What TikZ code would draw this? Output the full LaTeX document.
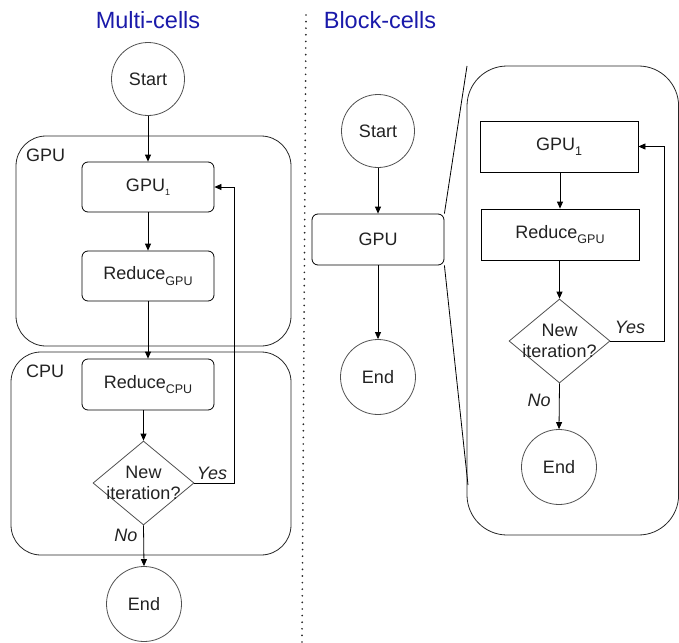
\documentclass[tikz,border=0pt]{standalone}
\usepackage{fontspec}
\setmainfont{Liberation Sans}
\usetikzlibrary{arrows.meta,shapes.geometric}
\definecolor{ttl}{RGB}{26,26,170}
\definecolor{ink}{RGB}{34,34,34}
\definecolor{shp}{RGB}{80,80,80}
\newcommand{\subbig}[1]{\raisebox{-0.3em}{\fontsize{12.5}{12}\selectfont #1}}
\newcommand{\subsmall}[1]{\raisebox{-0.25em}{\fontsize{9}{9}\selectfont #1}}
\begin{document}
\begin{tikzpicture}[x=1pt,y=-1pt,
  txtbase/.style={font=\fontsize{18}{21}\selectfont, text=ink, inner sep=0pt},
  circ/.style={txtbase, circle, draw=shp, line width=0.8pt, minimum size=#1},
  rbox/.style={txtbase, rectangle, rounded corners=6pt, draw=black, line width=0.8pt},
  sbox/.style={txtbase, rectangle, draw=black, line width=0.8pt},
  grpbox/.style={rectangle, rounded corners=#1, draw=black!85, line width=0.8pt},
  dia/.style={diamond, draw=shp, line width=0.8pt, inner sep=0pt},
  conn/.style={draw=black, line width=0.8pt},
  arr/.style={conn, -{Triangle[length=7pt,width=6pt]}},
  lab/.style={txtbase, font=\fontsize{18}{21}\selectfont\itshape},
  ttlstyle/.style={font=\fontsize{23.5}{28}\selectfont, text=ttl, inner sep=0pt, anchor=base},
]
\useasboundingbox (0,0) rectangle (679,642);

% titles
\node[ttlstyle] (t1) at (148,29) {Multi-cells};
\node[ttlstyle] (t2) at (380,29) {Block-cells};

% dotted separator
\coordinate (sepT) at (306,15);
\coordinate (sepB) at (302,642);
\draw[line width=1.9pt, line cap=round, dash pattern=on 0pt off 6.6pt, black!85] (sepT) -- (sepB);

% ---------------- Left: Multi-cells ----------------
\node[grpbox=30pt, minimum width=275pt, minimum height=210pt] (gpuL) at (153.5,241) {};
\node[grpbox=30pt, minimum width=280pt, minimum height=203pt] (cpuL) at (151,453.5) {};
\node[txtbase, anchor=west] (gpuLl) at (26,155) {GPU};
\node[txtbase, anchor=west] (cpuLl) at (26,371) {CPU};

\node[circ=73pt] (startL) at (148,79) {Start};
\node[rbox, minimum width=132pt, minimum height=50pt] (gpu1L) at (148,187) {GPU\subsmall{1}};
\node[rbox, minimum width=132pt, minimum height=50pt] (redgL) at (148,276) {Reduce\subbig{GPU}};
\node[rbox, minimum width=132pt, minimum height=51pt] (redcL) at (148,384.5) {Reduce\subbig{CPU}};
\node[dia, minimum width=101pt, minimum height=84pt] (diaL) at (143.5,483) {};
\node[txtbase, align=center, font=\fontsize{18}{20.5}\selectfont] (diaLt) at (diaL) {New\\iteration?};
\node[circ=75pt] (endL) at (144,604) {End};

\coordinate (loopL) at (234,483);
\draw[arr] (startL) -- (gpu1L);
\draw[arr] (gpu1L) -- (redgL);
\draw[arr] (redgL) -- (redcL);
\draw[arr] (diaL.north |- redcL.south) -- (diaL.north);
\draw[arr] (diaL.east) -- (loopL) |- (gpu1L.east);
\draw[arr] (diaL.south) -- (endL.north);
\node[lab] (yesL) at (212,473) {Yes};
\node[lab] (noL) at (126,535) {No};

% ---------------- Right: Block-cells ----------------
\node[circ=73pt] (startR) at (378,131) {Start};
\node[rbox, minimum width=132pt, minimum height=51pt] (gpuR) at (378,239.5) {GPU};
\node[circ=75pt] (endR) at (378,377) {End};
\draw[arr] (startR) -- (gpuR);
\draw[arr] (gpuR) -- (endR);

\node[grpbox=40pt, minimum width=211.6pt, minimum height=469pt] (blk) at (572.8,300.5) {};
\coordinate (zt) at (467,66);
\coordinate (zb) at (468,485);
\draw[conn] (gpuR.north east) -- (zt);
\draw[conn] (gpuR.south east) -- (zb);

\node[sbox, minimum width=158pt, minimum height=51pt] (gpu1R) at (559,146.5) {GPU\subbig{1}};
\node[sbox, minimum width=158pt, minimum height=51pt] (redgR) at (560,234.5) {Reduce\subbig{GPU}};
\node[dia, minimum width=101pt, minimum height=84pt] (diaR) at (559.5,341) {};
\node[txtbase, align=center, font=\fontsize{18}{20.5}\selectfont] (diaRt) at (diaR) {New\\iteration?};
\node[circ=75pt] (endR2) at (559,467) {End};

\coordinate (loopR) at (664,341);
\draw[arr] (gpu1R.south -| redgR.north) -- (redgR.north);
\draw[arr] (diaR.north |- redgR.south) -- (diaR.north);
\draw[arr] (diaR.east) -- (loopR) |- (gpu1R.east);
\draw[arr] (diaR.south) -- (endR2.north);
\node[lab] (yesR) at (630,327) {Yes};
\node[lab] (noR) at (539,400) {No};
\end{tikzpicture}
\end{document}
